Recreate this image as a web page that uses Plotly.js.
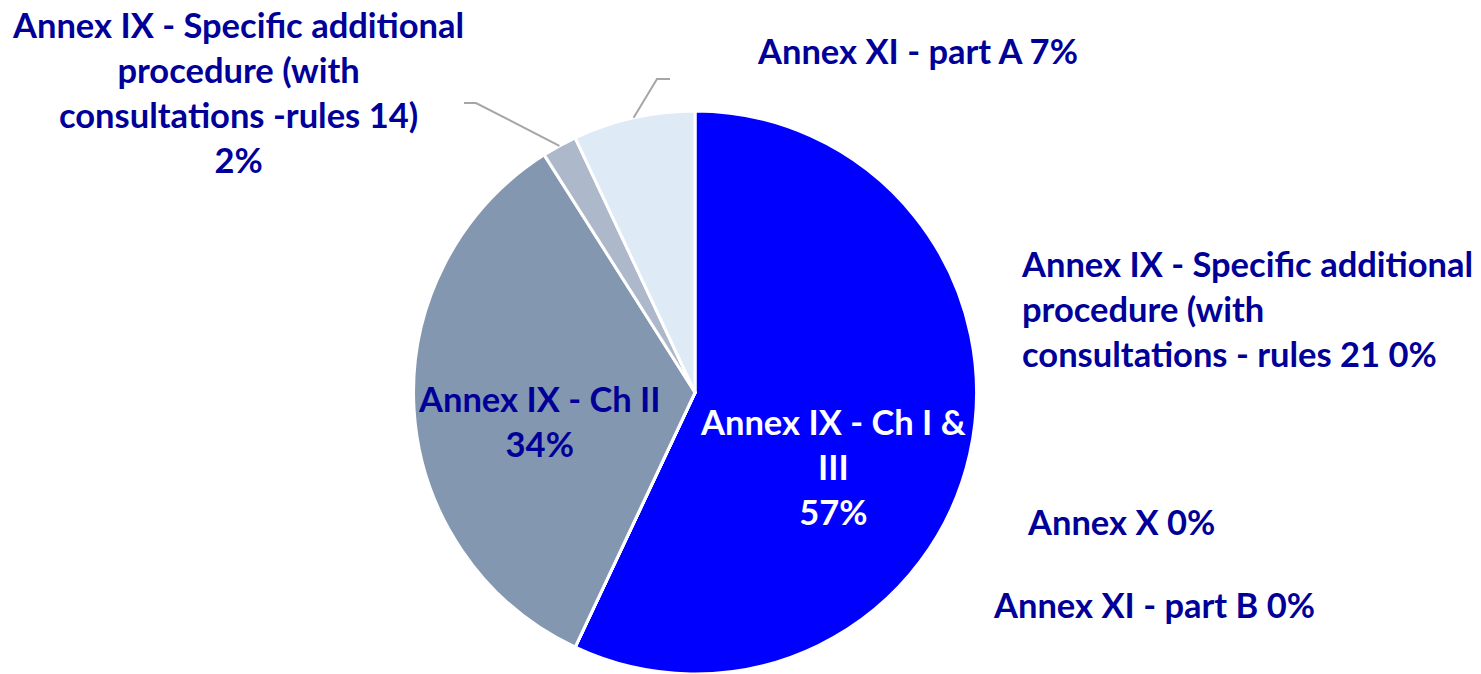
<!DOCTYPE html>
<html>
<head>
<meta charset="utf-8">
<script src="https://cdn.plot.ly/plotly-3.0.1.min.js"></script>
<style>html,body{margin:0;padding:0;background:#fff;}#chart{width:1481px;height:674px;}</style>
</head>
<body>
<div id="chart"></div>
<script>
// ---- data ----
const labels = [
  "Annex IX - Ch I & III",
  "Annex IX - Specific additional procedure (with consultations - rules 21",
  "Annex X",
  "Annex XI - part B",
  "Annex IX - Ch II",
  "Annex IX - Specific additional procedure (with consultations -rules 14)",
  "Annex XI - part A"
];
const displayLabels = [
  "Annex IX - Ch I &<br>III",
  "Annex IX - Specific additional<br>procedure (with<br>consultations - rules 21",
  "Annex X",
  "Annex XI - part B",
  "Annex IX - Ch II",
  "Annex IX - Specific additional<br>procedure (with<br>consultations -rules 14)",
  "Annex XI - part A"
];
const values = [57, 0, 0, 0, 34, 2, 7];
const colors = ["#0000FF", "#4472C4", "#5B7FBF", "#7F96C8", "#8497B0", "#ADB9CA", "#DEEAF6"];

// ---- layout helpers ----
const W = 1481, H = 674;
const px = x => x / W, py = y => 1 - y / H;
const FONT = "Lato, 'Open Sans', sans-serif";
const NAVY = "#000099";

const total = values.reduce((a, b) => a + b, 0);
const pct = v => Math.round(v / total * 100) + "%";
const place = [
  {x: 833, y: 466, sep: "<br>", color: "#FFFFFF", align: "center"},
  {x: 1019, y: 308, sep: " ", color: NAVY, align: "left", xanchor: "left"},
  {x: 1025, y: 521, sep: " ", color: NAVY, align: "left", xanchor: "left"},
  {x: 991, y: 604, sep: " ", color: NAVY, align: "left", xanchor: "left"},
  {x: 539, y: 421, sep: "<br>", color: NAVY, align: "center"},
  {x: 238, y: 92, sep: "<br>", color: NAVY, align: "center"},
  {x: 917, y: 50, sep: " ", color: NAVY, align: "center"}
];

const annotations = displayLabels.map((lab, i) => ({
  xref: "paper", yref: "paper",
  x: px(place[i].x), y: py(place[i].y),
  xanchor: place[i].xanchor || "center", yanchor: "middle",
  align: place[i].align,
  showarrow: false,
  text: lab + place[i].sep + pct(values[i]),
  font: {family: FONT, size: 34.5, color: place[i].color, weight: 700}
}));

// leader lines from slice mid-points (geometry of pie)
const cx = 695, cy = 392.5, R = 281.5;
function midPoint(i) {
  const before = values.slice(0, i).reduce((a, b) => a + b, 0);
  const ang = (before + values[i] / 2) / total * 2 * Math.PI;
  return [cx + R * Math.sin(ang), cy - R * Math.cos(ang)];
}
const leaders = [
  {i: 5, elbow: [476, 103], end: [464, 103]},
  {i: 6, elbow: [657, 79], end: [670, 79]}
];
const shapes = leaders.map(l => {
  const [sx, sy] = midPoint(l.i);
  return {
    type: "path", xref: "paper", yref: "paper",
    path: `M ${px(sx)} ${py(sy)} L ${px(l.elbow[0])} ${py(l.elbow[1])} L ${px(l.end[0])} ${py(l.end[1])}`,
    line: {color: "#A6A6A6", width: 2}
  };
});

const trace = {
  type: "pie",
  labels: labels,
  values: values,
  sort: false,
  direction: "clockwise",
  rotation: 0,
  marker: {colors: colors, line: {color: "#FFFFFF", width: 3}},
  textinfo: "none",
  hoverinfo: "none",
  domain: {x: [0.2782, 0.6604], y: [0, 0.8353]},
  showlegend: false
};

const layout = {
  width: W, height: H,
  margin: {l: 0, r: 0, t: 0, b: 0},
  paper_bgcolor: "#FFFFFF",
  showlegend: false,
  annotations: annotations,
  shapes: shapes,
  hovermode: false
};

Plotly.newPlot("chart", [trace], layout, {displayModeBar: false, staticPlot: true});
</script>
</body>
</html>
